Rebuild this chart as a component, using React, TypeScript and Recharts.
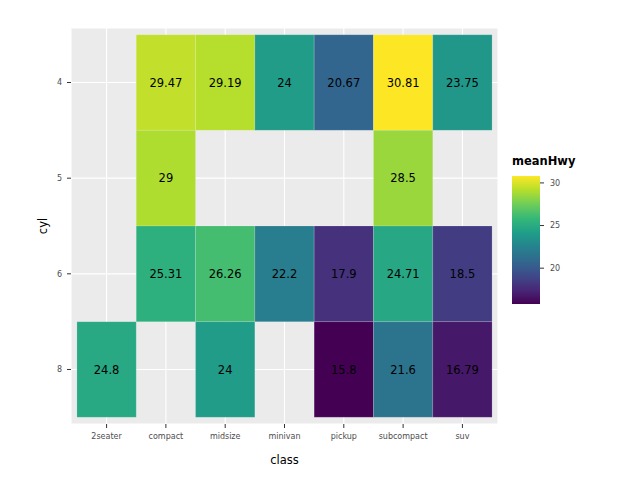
import {
  ScatterChart,
  Scatter,
  XAxis,
  YAxis,
  CartesianGrid,
  ReferenceArea,
} from "recharts";

const classes = ["2seater", "compact", "midsize", "minivan", "pickup", "subcompact", "suv"];
const cylLevels = ["4", "5", "6", "8"];

// mean highway mpg per class, one array per cyl level (null = no cars)
const hwyCyl4 = [null, 29.47, 29.19, 24, 20.67, 30.81, 23.75];
const hwyCyl5 = [null, 29, null, null, null, 28.5, null];
const hwyCyl6 = [null, 25.31, 26.26, 22.2, 17.9, 24.71, 18.5];
const hwyCyl8 = [24.8, null, 24, null, 15.8, 21.6, 16.79];
const hwyRows = [hwyCyl4, hwyCyl5, hwyCyl6, hwyCyl8];

const legendTicks = [20, 25, 30];

const viridis = [
  "#440154", "#482878", "#3E4A89", "#31688E", "#26828E",
  "#1F9E89", "#35B779", "#6DCD59", "#B4DE2C", "#FDE725",
];

const allValues = hwyRows.flat().filter((v): v is number => v !== null);
const vMin = Math.min(...allValues);
const vMax = Math.max(...allValues);

function hexToRgb(h: string) {
  const n = parseInt(h.slice(1), 16);
  return [(n >> 16) & 255, (n >> 8) & 255, n & 255];
}

function colorFor(v: number) {
  const t = (v - vMin) / (vMax - vMin);
  const pos = Math.min(Math.max(t, 0), 1) * (viridis.length - 1);
  const i = Math.min(Math.floor(pos), viridis.length - 2);
  const f = pos - i;
  const a = hexToRgb(viridis[i]);
  const b = hexToRgb(viridis[i + 1]);
  const c = a.map((x, k) => Math.round(x + (b[k] - x) * f));
  return `rgb(${c[0]},${c[1]},${c[2]})`;
}

const cells = hwyRows.flatMap((row, r) =>
  row
    .map((v, c) => ({ x: c + 1, y: r + 1, value: v }))
    .filter((d) => d.value !== null)
) as { x: number; y: number; value: number }[];

const font = "DejaVu Sans, sans-serif";

// colour bar geometry
const barX = 512;
const barTop = 176;
const barW = 28;
const barH = 128;

function ColorBar() {
  const yOf = (v: number) => barTop + barH - ((v - vMin) / (vMax - vMin)) * barH;
  return (
    <svg
      width={640}
      height={480}
      style={{ position: "absolute", left: 0, top: 0, pointerEvents: "none" }}
    >
      <defs>
        <linearGradient id="vir" x1="0" y1="1" x2="0" y2="0">
          {viridis.map((c, i) => (
            <stop key={i} offset={i / (viridis.length - 1)} stopColor={c} />
          ))}
        </linearGradient>
      </defs>
      <text x={barX} y={165} fontFamily={font} fontSize={11.5} fontWeight="bold" fill="#000">
        meanHwy
      </text>
      <rect x={barX} y={barTop} width={barW} height={barH} fill="url(#vir)" />
      {legendTicks.map((t) => (
        <g key={t}>
          <line x1={barX + barW} x2={barX + barW + 4} y1={yOf(t)} y2={yOf(t)} stroke="#333" strokeWidth={1} />
          <text
            x={barX + barW + 10}
            y={yOf(t)}
            dy="0.35em"
            fontFamily={font}
            fontSize={8}
            fill="#4D4D4D"
          >
            {t}
          </text>
        </g>
      ))}
    </svg>
  );
}

export default function App() {
  return (
    <div
      style={{
        position: "absolute",
        left: 0,
        top: 0,
        width: 640,
        height: 480,
        background: "#fff",
        fontFamily: font,
      }}
    >
      <ScatterChart
        width={640}
        height={480}
        margin={{ top: 28, right: 142, left: 11, bottom: 8 }}
      >
        <CartesianGrid fill="#EBEBEB" stroke="#fff" strokeWidth={1.1} />
        <XAxis
          type="number"
          dataKey="x"
          domain={[0.4, 7.6]}
          ticks={[1, 2, 3, 4, 5, 6, 7]}
          tickFormatter={(v: number) => classes[v - 1]}
          interval={0}
          height={48}
          axisLine={false}
          tickSize={4}
          tickMargin={5}
          tickLine={{ stroke: "#333" }}
          tick={{ fontSize: 8, fill: "#4D4D4D", fontFamily: font }}
          label={{
            value: "class",
            position: "insideBottom",
            offset: 8,
            fontSize: 11.5,
            fill: "#000",
            fontFamily: font,
          }}
        />
        <YAxis
          type="number"
          dataKey="y"
          reversed
          domain={[0.43, 4.57]}
          ticks={[1, 2, 3, 4]}
          tickFormatter={(v: number) => cylLevels[v - 1]}
          interval={0}
          width={60}
          axisLine={false}
          tickSize={4}
          tickMargin={5}
          tickLine={{ stroke: "#333" }}
          tick={{ fontSize: 8, fill: "#4D4D4D", fontFamily: font }}
          label={{
            value: "cyl",
            angle: -90,
            position: "insideLeft",
            offset: 32,
            fontSize: 11.5,
            fill: "#000",
            fontFamily: font,
            style: { textAnchor: "middle" },
          }}
        />
        {cells.map((d) => (
          <ReferenceArea
            key={`${d.x}-${d.y}`}
            x1={d.x - 0.5}
            x2={d.x + 0.5}
            y1={d.y - 0.5}
            y2={d.y + 0.5}
            fill={colorFor(d.value)}
            fillOpacity={1}
            stroke="rgba(255,255,255,0.25)"
            strokeWidth={0.6}
            ifOverflow="visible"
            label={{
              value: String(d.value),
              position: "center",
              fontSize: 11.5,
              fill: "#000",
              fontFamily: font,
            }}
          />
        ))}
        <Scatter data={cells} fill="none" shape={() => <g />} isAnimationActive={false} />
      </ScatterChart>
      <ColorBar />
    </div>
  );
}
